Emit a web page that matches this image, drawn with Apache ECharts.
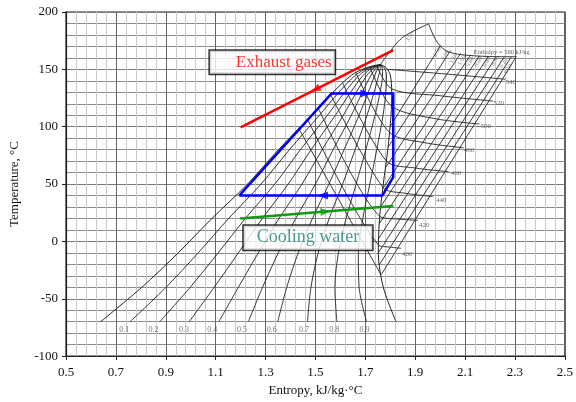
<!DOCTYPE html>
<html><head><meta charset="utf-8">
<script src="https://cdn.jsdelivr.net/npm/echarts@6/dist/echarts.min.js"></script>
<style>html,body{margin:0;padding:0;background:#fff}#c{width:576px;height:402px}</style>
</head><body><div id="c"></div>
<script>
// ---------- data ----------
const domeT   = [-70, -40, -10, 20, 50, 80, 110, 130, 145, 151, 154];
const liquidS = [0.639, 0.804, 0.950, 1.085, 1.228, 1.352, 1.484, 1.570, 1.645, 1.700, 1.760];
const vaporS  = [1.823, 1.772, 1.752, 1.757, 1.772, 1.790, 1.803, 1.806, 1.800, 1.785, 1.760];

const qualityNames = ['0.1','0.2','0.3','0.4','0.5','0.6','0.7','0.8','0.9'];
const qualityS = [
  [0.757,0.901,1.030,1.152,1.282,1.396,1.516,1.594,1.661,1.709,1.760],
  [0.876,0.998,1.110,1.219,1.337,1.440,1.548,1.617,1.676,1.717,1.760],
  [0.994,1.094,1.191,1.287,1.391,1.483,1.580,1.641,1.692,1.726,1.760],
  [1.113,1.191,1.271,1.354,1.446,1.527,1.612,1.664,1.707,1.734,1.760],
  [1.231,1.288,1.351,1.421,1.500,1.571,1.644,1.688,1.723,1.743,1.760],
  [1.349,1.385,1.431,1.488,1.554,1.615,1.675,1.712,1.738,1.751,1.760],
  [1.468,1.482,1.511,1.555,1.609,1.659,1.707,1.735,1.754,1.760,1.760],
  [1.586,1.578,1.592,1.623,1.663,1.702,1.739,1.759,1.769,1.768,1.760],
  [1.705,1.675,1.672,1.690,1.718,1.746,1.771,1.782,1.785,1.777,1.760]
];
const qualityLabelS = [0.736,0.853,0.975,1.088,1.208,1.327,1.456,1.577,1.699];
const qualityLabelT = -78;

const enthalpyLevels = [380, 400, 420, 440, 460, 480, 500, 520, 540, 560];
const enthalpyS = [
  [1.432, 1.760],
  [1.467, 1.752, 1.800, 1.843],
  [1.512, 1.757, 1.830, 1.910],
  [1.561, 1.771, 1.860, 1.970],
  [1.609, 1.785, 1.900, 2.034],
  [1.662, 1.797, 1.940, 2.094],
  [1.718, 1.805, 1.980, 2.157],
  [1.745, 1.806, 2.000, 2.213],
  [1.790, 2.020, 2.261],
  [1.954, 1.982, 2.022, 2.086, 2.197, 2.305]
];
const enthalpyT = [
  [99, -28],
  [107, -3, -5, -6],
  [116, 22, 19.5, 18.4],
  [128, 47, 42, 39.2],
  [138, 70, 64, 60.8],
  [147, 95, 86, 81.6],
  [152, 118, 107, 102.4],
  [153.5, 133, 127, 122.3],
  [150, 146, 141.4],
  [189.6, 175.8, 166.3, 162.8, 161.2, 161.0]
];
const enthalpyLabelText = ['400','420','440','460','480','500','520','540'];
const enthalpyLabelS = [1.870, 1.938, 2.006, 2.066, 2.118, 2.185, 2.237, 2.285];
const enthalpyLabelT = [-11.5, 13.6, 35.7, 59, 79, 99.8, 119.7, 138.7];

const isobarS = [
  [1.760, 1.845, 1.954],
  [1.799, 2.002], [1.791, 2.042], [1.780, 2.082], [1.770, 2.122], [1.761, 2.157],
  [1.755, 2.193], [1.752, 2.225], [1.752, 2.257], [1.757, 2.285], [1.764, 2.305]
];
const isobarT = [
  [154, 177, 189.6],
  [100, 170.8], [82, 166.5], [64, 163.9], [46, 162.6], [30, 161.7],
  [15, 161.3], [2, 161.0], [-10, 161.0], [-20, 161.0], [-29, 161.0]
];
const isobarLabelText = ['3.50','2.50','2.00','1.50','1.00','0.80','0.60','0.40','0.30','0.20','0.10'];
const isobarLabelS = [1.880, 1.990, 2.023, 2.056, 2.089, 2.123, 2.156, 2.189, 2.222, 2.256, 2.274];
const isobarLabelT = [178, 165, 162, 159, 157.5, 156, 156, 156, 157, 155, 150];

const cycleS = [1.195, 1.565, 1.812, 1.812, 1.768, 1.195];
const cycleT = [40, 129, 129, 56, 40, 40];
const cycleArrowS = [1.70, 1.53];
const cycleArrowT = [129, 40];

const exhaustS = [1.200, 1.812];
const exhaustT = [99.5, 166.7];
const exhaustArrowS = 1.50, exhaustArrowT = 132.4;

const coolingS = [1.198, 1.812];
const coolingT = [20, 30.8];
const coolingArrowS = 1.54, coolingArrowT = 26.0;

const annotationText = ['Exhaust gases', 'Cooling water'];
const annotationS = [1.329, 1.472];
const annotationT = [155.7, 2.8];

const xTicks = [0.5, 0.7, 0.9, 1.1, 1.3, 1.5, 1.7, 1.9, 2.1, 2.3, 2.5];
const yTicks = [-100, -50, 0, 50, 100, 150, 200];

// ---------- chart ----------
const serif = "'Liberation Serif','Times New Roman',serif";
const series = [];
const zip = (a, b) => a.map((v, i) => [v, b[i]]);
function addLine(name, data, color, width, z, smooth) {
  series.push({type:'line', name, data, symbol:'none', showSymbol:false, smooth: smooth || 0,
    color, lineStyle:{color, width}, z, silent:true, animation:false});
}
// dome
addLine('dome', zip(liquidS, domeT).concat(zip(vaporS, domeT).reverse()), '#222', 1, 3, 0.3);
qualityS.forEach((row, i) => addLine('x' + qualityNames[i], zip(row, domeT), '#222', 0.9, 3, 0.3));
enthalpyS.forEach((row, i) => addLine('h' + enthalpyLevels[i], zip(row, enthalpyT[i]), '#222', 0.9, 3, 0.3));
isobarS.forEach((row, i) => addLine('p' + i, zip(row, isobarT[i]), '#222', 0.9, 3, 0.3));

// labels
function addLabels(name, data, fontSize, textColor, rotate) {
  const lab = {show:true, position:[0, 0], align:'center', verticalAlign:'middle', formatter:'{b}',
    fontSize, color:textColor, fontFamily:serif, rotate: rotate || 0};
  series.push({type:'scatter', name, color:textColor,
    data: data.map(d => Object.assign({}, d, {label: Object.assign({}, lab)})),
    symbolSize:1, itemStyle:{color:'rgba(0,0,0,0)'}, z:6, silent:true, animation:false,
    label: lab});
}
addLabels('qlabels', qualityLabelS.map((s, i) => ({name: qualityNames[i], value:[s, qualityLabelT]})), 8, '#555');
addLabels('hlabels', enthalpyLabelS.map((s, i) => ({name: enthalpyLabelText[i], value:[s, enthalpyLabelT[i]]})), 7, '#444');
addLabels('h560', [{name:'Enthalpy = 560 kJ/kg', value:[2.249, 164.7]}], 6.5, '#333');
addLabels('plabels', isobarLabelS.map((s, i) => ({name: isobarLabelText[i], value:[s, isobarLabelT[i]]})), 6, '#555', 60);

// process lines
addLine('exhaust', zip(exhaustS, exhaustT), '#ff0000', 2.5, 8);
addLine('cycle', zip(cycleS, cycleT), '#0000ff', 2.5, 8);
addLine('cooling', zip(coolingS, coolingT), '#109a10', 2.5, 8);
function addArrow(name, pts, color, rots) {
  series.push({type:'scatter', name, color, data: pts.map((p, i) => ({value:p, symbolRotate: rots[i]})),
    symbol:'triangle', symbolSize:[8, 10], itemStyle:{color}, z:9, silent:true, animation:false});
}
addArrow('cycleArrows', zip(cycleArrowS, cycleArrowT), '#0000ff', [-90, 90]);
addArrow('exhaustArrow', [[exhaustArrowS, exhaustArrowT]], '#ff0000', [117]);
addArrow('coolingArrow', [[coolingArrowS, coolingArrowT]], '#109a10', [-85]);

// annotation boxes
const boxLabel = {show:true, position:[0, 0], align:'center', verticalAlign:'middle', formatter:'{b}', fontFamily:serif,
  backgroundColor:'#fff', borderColor:'#000', borderWidth:1.5, lineHeight:18};
series.push({type:'scatter', name:'boxes', symbolSize:1, itemStyle:{color:'rgba(0,0,0,0)'}, z:10, silent:true, animation:false,
  data:[
    {name: annotationText[0], value:[annotationS[0], annotationT[0]],
      label:Object.assign({}, boxLabel, {color:'#ff0000', fontSize:17, padding:[3, 3, 2, 26]})},
    {name: annotationText[1], value:[annotationS[1], annotationT[1]],
      label:Object.assign({}, boxLabel, {color:'#1f7f74', fontSize:18, padding:[3, 13, 3, 13]})}
  ],
  label: boxLabel
});

const chart = echarts.init(document.getElementById('c'), null, {renderer:'canvas'});
chart.setOption({
  backgroundColor:'#fff',
  animation:false,
  grid:{left:64, right:9, top:12, bottom:43, show:true, borderColor:'#222', borderWidth:1.2, backgroundColor:'transparent'},
  xAxis:{type:'value', min:xTicks[0], max:xTicks[xTicks.length-1], interval:0.2,
    name:'Entropy, kJ/kg·°C', nameLocation:'middle', nameGap:27,
    nameTextStyle:{fontFamily:serif, fontSize:13, color:'#111'},
    axisLine:{show:true, onZero:false, lineStyle:{color:'#222', width:1.2}},
    axisTick:{show:true, length:4, lineStyle:{color:'#222'}},
    axisLabel:{fontFamily:serif, fontSize:13, color:'#111', margin:10, formatter: v => v.toFixed(1)},
    splitLine:{show:true, lineStyle:{color:'#666', width:1}},
    minorTick:{show:false, splitNumber:5},
    minorSplitLine:{show:true, lineStyle:{color:'#c9c9c9', width:1}}},
  yAxis:{type:'value', min:yTicks[0], max:yTicks[yTicks.length-1], interval:50,
    name:'Temperature, °C', nameLocation:'middle', nameGap:45, nameRotate:90,
    nameTextStyle:{fontFamily:serif, fontSize:13, color:'#111'},
    axisLine:{show:true, onZero:false, lineStyle:{color:'#222', width:1.2}},
    axisTick:{show:true, length:4, lineStyle:{color:'#222'}},
    axisLabel:{fontFamily:serif, fontSize:13, color:'#111', margin:8},
    splitLine:{show:true, lineStyle:{color:'#7a7a7a', width:1}},
    minorTick:{show:false, splitNumber:5},
    minorSplitLine:{show:true, lineStyle:{color:'#8a8a8a', width:1}}},
  series
});
</script>
</body></html>
